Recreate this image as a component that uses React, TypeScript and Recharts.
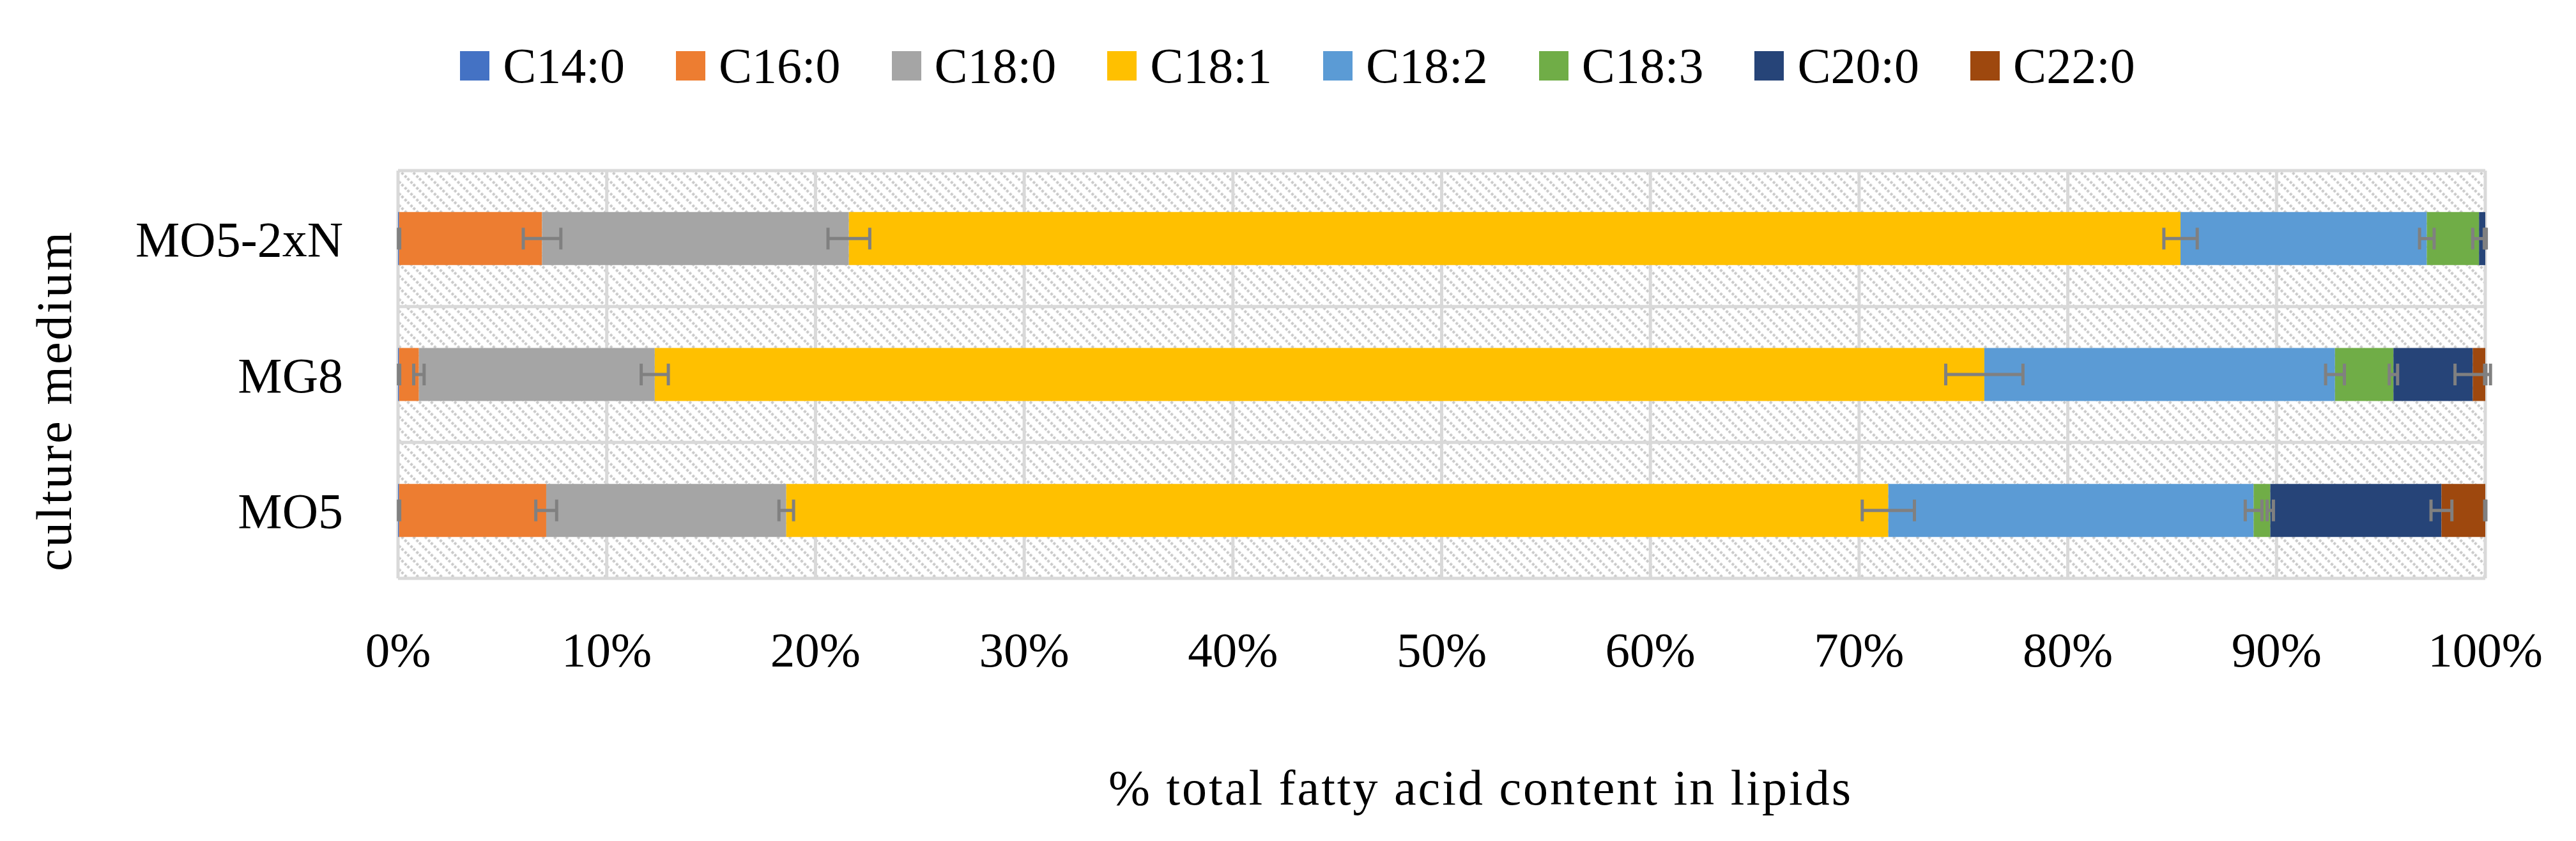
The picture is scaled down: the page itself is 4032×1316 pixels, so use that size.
import React from 'react';
import { BarChart, Bar, XAxis, YAxis, CartesianGrid, Legend, ErrorBar } from 'recharts';

const media = ['MO5-2xN', 'MG8', 'MO5'];
const acids = ['C14:0', 'C16:0', 'C18:0', 'C18:1', 'C18:2', 'C18:3', 'C20:0', 'C22:0'];
const colors = ['#4472C4', '#ED7D31', '#A5A5A5', '#FFC000', '#5B9BD5', '#70AD47', '#264478', '#9E480E'];

// % of total fatty acids, in the order of `acids`
const mo52xN = [0.05, 6.85, 14.7, 63.8, 11.8, 2.5, 0.3, 0.0];
const mg8 = [0.05, 0.95, 11.3, 63.7, 16.8, 2.8, 3.8, 0.6];
const mo5 = [0.05, 7.05, 11.5, 52.8, 17.5, 0.8, 8.2, 2.1];

// error bar half widths
const mo52xNErr = [0.03, 0.9, 1.0, 0.8, 0.35, 0.3, 0.05, 0];
const mg8Err = [0.03, 0.25, 0.65, 1.85, 0.45, 0.2, 0.85, 0.03];
const mo5Err = [0.03, 0.5, 0.35, 1.25, 0.4, 0.15, 0.5, 0.03];

const xTicks = [0, 10, 20, 30, 40, 50, 60, 70, 80, 90, 100];

const values = [mo52xN, mg8, mo5];
const errors = [mo52xNErr, mg8Err, mo5Err];

const data = media.map((m, i) => {
  const row: Record<string, any> = { medium: m };
  acids.forEach((_, j) => {
    row[`fa${j}`] = values[i][j];
    row[`fa${j}err`] = errors[i][j];
  });
  return row;
});

const FONT = '"Liberation Serif", "Times New Roman", serif';

const renderLegend = () => (
  <div style={{ display: 'flex', justifyContent: 'center', alignItems: 'center', height: 60, paddingLeft: 30, fontFamily: FONT }}>
    {acids.map((a, i) => (
      <div key={a} style={{ display: 'flex', alignItems: 'center', marginRight: i < acids.length - 1 ? 80 : 0 }}>
        <span style={{ display: 'inline-block', width: 46, height: 46, background: colors[i], marginRight: 21 }} />
        <span style={{ fontSize: 78, lineHeight: '60px', color: '#000' }}>{a}</span>
      </div>
    ))}
  </div>
);

const XTitle = (props: any) => {
  const vb = props.viewBox;
  const x = vb.x + vb.width / 2 + 61;
  return (
    <text x={x} y={vb.y + 354} textAnchor="middle" fontFamily={FONT} fontSize={78} letterSpacing={3} fill="#000">
      % total fatty acid content in lipids
    </text>
  );
};

const YTitle = (props: any) => {
  const vb = props.viewBox;
  const x = vb.x + 76;
  const y = vb.y + vb.height / 2 + 41;
  return (
    <text x={x} y={y} transform={`rotate(-90, ${x}, ${y})`} textAnchor="middle" dominantBaseline="central"
      fontFamily={FONT} fontSize={78} letterSpacing={3} fill="#000">
      culture medium
    </text>
  );
};

// category boundaries instead of category centres
const bandLines = ({ offset }: any) => {
  const step = offset.height / media.length;
  return [...media.map((_, i) => offset.top + i * step), offset.top + offset.height];
};

export default function App() {
  return (
    <div style={{ width: 4016, height: 1308, fontFamily: FONT }}>
      <BarChart
        width={4016}
        height={1308}
        data={data}
        layout="vertical"
        barCategoryGap="30.5%"
        margin={{ top: 199, right: 134, bottom: 0, left: 0 }}
      >
        <defs>
          <pattern id="hatch" patternUnits="userSpaceOnUse" width="13" height="13" patternTransform="rotate(-45)">
            <rect width="13" height="13" fill="#ffffff" />
            <line x1="6.5" y1="0" x2="6.5" y2="13" stroke="#c9c9c9" strokeWidth="4" strokeDasharray="4 3" />
          </pattern>
        </defs>
        <CartesianGrid
          stroke="#d9d9d9"
          strokeWidth={5}
          fill="url(#hatch)"
          horizontalCoordinatesGenerator={bandLines}
        />
        <XAxis
          type="number"
          domain={[0, 100]}
          ticks={xTicks}
          allowDataOverflow
          tickFormatter={(v: number) => `${v}%`}
          axisLine={false}
          tickLine={false}
          tickSize={0}
          tickMargin={83}
          height={411}
          tick={{ fontSize: 77, fill: '#000', fontFamily: FONT }}
          label={{ content: XTitle }}
        />
        <YAxis
          type="category"
          dataKey="medium"
          width={615}
          axisLine={false}
          tickLine={false}
          tickSize={0}
          tickMargin={86}
          tick={{ fontSize: 78, fill: '#000', fontFamily: FONT }}
          label={{ content: YTitle }}
        />
        <Legend verticalAlign="top" content={renderLegend} wrapperStyle={{ top: 65, left: 0, width: 4016 }} />
        {acids.map((a, j) => (
          <Bar key={a} dataKey={`fa${j}`} name={a} stackId="fa" fill={colors[j]} isAnimationActive={false}>
            <ErrorBar dataKey={`fa${j}err`} direction="x" width={17} stroke="#808080" strokeWidth={5} />
          </Bar>
        ))}
      </BarChart>
    </div>
  );
}
